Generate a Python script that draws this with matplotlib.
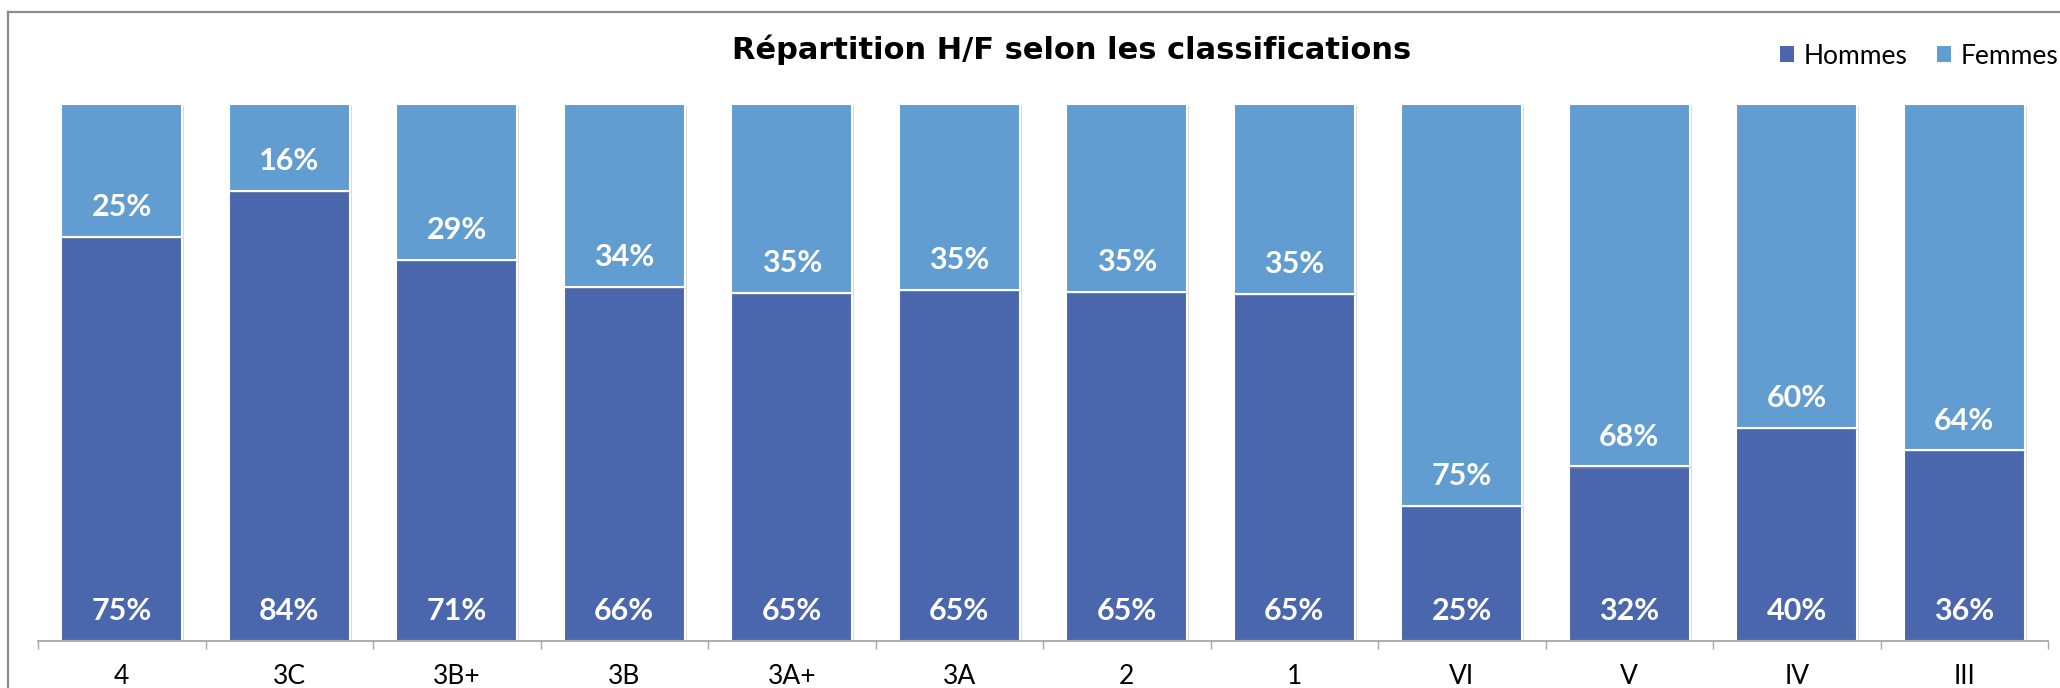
import matplotlib
matplotlib.use("Agg")
import matplotlib.pyplot as plt
from matplotlib.patches import Patch
from matplotlib.lines import Line2D
import matplotlib.patheffects as pe
import numpy as np

categories = ["4", "3C", "3B+", "3B", "3A+", "3A", "2", "1", "VI", "V", "IV", "III"]
hommes = [75.2, 83.8, 71.0, 66.0, 64.8, 65.3, 65.0, 64.6, 25.2, 32.5, 39.6, 35.5]
femmes = [24.8, 16.2, 29.0, 34.0, 35.2, 34.7, 35.0, 35.4, 74.8, 67.5, 60.4, 64.5]
series_names = ["Hommes", "Femmes"]
colors = ["#4A66AC", "#629DD1"]
title = "Répartition H/F selon les classifications"

W, H = 2060, 688
fig = plt.figure(figsize=(W / 100, H / 100), dpi=100)

ax_left, ax_right = 38, 2048
ax_top, ax_bottom = 104, 641
ax = fig.add_axes([ax_left / W, (H - ax_bottom) / H, (ax_right - ax_left) / W, (ax_bottom - ax_top) / H])

x = np.arange(len(categories))
shadow = [pe.SimplePatchShadow(offset=(1.5, -1.5), shadow_rgbFace="#9a9a9a", alpha=0.35), pe.Normal()]
ax.bar(x, hommes, width=0.72, color=colors[0], edgecolor="white", linewidth=1.5, path_effects=shadow)
ax.bar(x, femmes, bottom=hommes, width=0.72, color=colors[1], edgecolor="white", linewidth=1.5, path_effects=shadow)

lab_font = dict(family=["Lato", "DejaVu Sans"], weight="bold", size=22, color="white")
for i in range(len(categories)):
    ax.annotate(f"{round(hommes[i])}%", (x[i], 0), xytext=(0, 21.5), textcoords="offset points",
                ha="center", va="center", **lab_font)
    ax.annotate(f"{round(femmes[i])}%", (x[i], hommes[i]), xytext=(0, 21.5), textcoords="offset points",
                ha="center", va="center", **lab_font)

ax.set_xlim(-0.5, len(categories) - 0.5)
ax.set_ylim(0, 100)
for s in ["top", "right", "left"]:
    ax.spines[s].set_visible(False)
ax.spines["bottom"].set_color("#a6a6a6")
ax.spines["bottom"].set_linewidth(1.3)
ax.set_yticks([])
ax.set_xticks(np.arange(-0.5, len(categories), 1.0))
ax.set_xticklabels([])
ax.tick_params(axis="x", which="major", length=5.8, width=1.0, color="#a6a6a6", direction="out")
ax.set_xticks(x, minor=True)
ax.set_xticklabels(categories, minor=True, fontfamily=["Lato", "DejaVu Sans"], fontsize=19, color="black")
ax.tick_params(axis="x", which="minor", length=0, pad=16.5)

fig.text(1072 / W, 1 - 50 / H, title, ha="center", va="center",
         fontfamily="DejaVu Sans", fontweight="bold", fontsize=22, color="black")

handles = [Patch(facecolor=colors[0], edgecolor="none"), Patch(facecolor=colors[1], edgecolor="none")]
ax.legend(handles, series_names, loc="center right", bbox_to_anchor=(2058 / W, 1 - 56 / H),
          bbox_transform=fig.transFigure, ncol=2, frameon=False, handlelength=0.55, handleheight=0.55,
          handletextpad=0.35, columnspacing=1.1, borderpad=0, borderaxespad=0,
          prop=dict(family=["Lato", "DejaVu Sans"], size=19))

# outer chart frame (top and left edges visible)
fig.add_artist(Line2D([8 / W, 1.0], [1 - 12 / H, 1 - 12 / H], transform=fig.transFigure, color="#8c8c8c", lw=1.6))
fig.add_artist(Line2D([8 / W, 8 / W], [0, 1 - 12 / H], transform=fig.transFigure, color="#8c8c8c", lw=1.6))

fig.savefig("out.png", dpi=100)
